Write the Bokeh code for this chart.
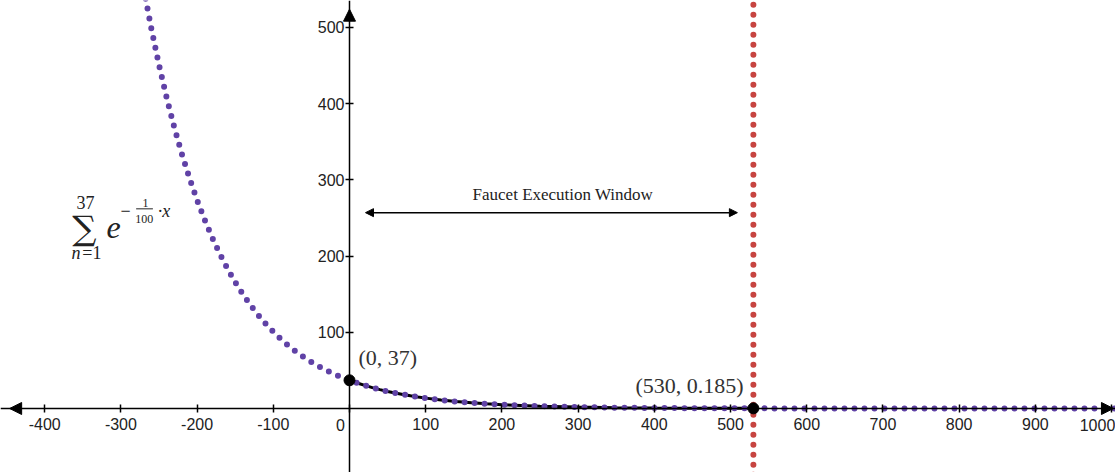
from bokeh.plotting import figure
from bokeh.models import Range1d, Arrow, NormalHead, FixedTicker
from bokeh.embed import file_html
from bokeh.resources import INLINE

# ---- data ----
curve_x = [-270, -260, -250, -240, -230, -220, -210, -200, -190, -180, -170, -160,
           -150, -140, -130, -120, -110, -100, -90, -80, -70, -60, -50, -40, -30,
           -20, -10, 0, 10, 20, 30, 40, 50, 60, 70, 80, 90, 100, 120, 140, 160, 180,
           200, 250, 300, 350, 400, 450, 500, 530, 600, 700, 800, 900, 1010]
curve_y = [550.6, 498.2, 450.8, 407.9, 369.0, 333.9, 302.2, 273.4, 247.4, 223.8, 202.5,
           183.3, 165.8, 150.0, 135.8, 122.8, 111.2, 100.6, 91.0, 82.3, 74.5, 67.4, 61.0,
           55.2, 49.9, 45.2, 40.9, 37.0, 33.5, 30.3, 27.4, 24.8, 22.4, 20.3, 18.4, 16.6,
           15.0, 13.6, 11.1, 9.1, 7.5, 6.1, 5.0, 3.0, 1.8, 1.1, 0.68, 0.41, 0.25, 0.185,
           0.09, 0.03, 0.01, 0.005, 0.002]
window_start = 0
window_end = 530
points_x = [0, 530]
points_y = [37, 0.185]
point_labels = ["(0, 37)", "(530, 0.185)"]
x_ticks = [-400, -300, -200, -100, 0, 100, 200, 300, 400, 500, 600, 700, 800, 900, 1000]
x_tick_labels = ["-400", "-300", "-200", "-100", "", "100", "200", "300", "400", "500",
                 "600", "700", "800", "900", ""]
y_ticks = [100, 200, 300, 400, 500]
annotation_text = "Faucet Execution Window"

PURPLE = "#6042a6"
RED = "#c74440"

p = figure(width=1115, height=472, output_backend="svg", toolbar_location=None,
           x_range=Range1d(-458.0, 1005.2), y_range=Range1d(-84.0, 535.4),
           min_border=0, x_axis_location="below", y_axis_location="left")
p.outline_line_color = None
p.xgrid.visible = False
p.ygrid.visible = False
p.background_fill_color = "white"

# axes through origin
for ax in (p.xaxis[0], p.yaxis[0]):
    ax.fixed_location = 0
    ax.axis_line_color = "black"
    ax.axis_line_width = 1.5
    ax.major_tick_line_color = "black"
    ax.major_tick_line_width = 1.5
    ax.major_tick_in = 4
    ax.major_tick_out = 4
    ax.minor_tick_line_color = None
    ax.major_label_text_font = "Liberation Sans"
    ax.major_label_text_font_size = "16px"
    ax.major_label_text_color = "#222222"
p.xaxis.ticker = FixedTicker(ticks=x_ticks)
p.yaxis.ticker = FixedTicker(ticks=y_ticks)
p.xaxis.major_label_overrides = {t: s for t, s in zip(x_ticks, x_tick_labels)}
p.xaxis.major_label_standoff = 6
p.yaxis.major_label_standoff = 1

# axis arrowheads
p.add_layout(Arrow(x_start=-400, y_start=0, x_end=-446, y_end=0, line_alpha=0,
                   end=NormalHead(size=12, fill_color="black", line_color="black")))
p.add_layout(Arrow(x_start=950, y_start=0, x_end=1002.5, y_end=0, line_alpha=0,
                   end=NormalHead(size=12, fill_color="black", line_color="black")))
p.add_layout(Arrow(x_start=0, y_start=480, x_end=0, y_end=524, line_alpha=0,
                   end=NormalHead(size=12, fill_color="black", line_color="black")))

p.text(x=[-12], y=[-22], text=["0"], text_font={"value": "Liberation Sans"},
       text_font_size="16px", text_color="#222222", text_align="center", text_baseline="middle")
p.text(x=[981.6], y=[-22], text=["1000"], text_font={"value": "Liberation Sans"},
       text_font_size="16px", text_color="#222222", text_align="center", text_baseline="middle")

# red dotted vertical line
p.line(x=[window_end, window_end], y=[-100, 600], line_color=RED, line_width=6,
       line_dash="0 10", line_cap="round")

# black solid curve within window
bx = [x for x in curve_x if window_start <= x <= window_end]
by = [y for x, y in zip(curve_x, curve_y) if window_start <= x <= window_end]
p.line(x=bx, y=by, line_color="black", line_width=3)

# purple dotted curve
p.line(x=curve_x, y=curve_y, line_color=PURPLE, line_width=6, line_dash="0 10",
       line_cap="round")

# points
p.scatter(x=points_x, y=points_y, size=11, fill_color="black", line_color="black")

p.text(x=[11.8], y=[66.9], text=[point_labels[0]], text_font={"value": "Liberation Serif"},
       text_font_size="22px", text_color="#333333", text_align="left", text_baseline="middle")
p.text(x=[375.3], y=[30.2], text=[point_labels[1]], text_font={"value": "Liberation Serif"},
       text_font_size="22px", text_color="#333333", text_align="left", text_baseline="middle")

# execution window annotation
p.add_layout(Arrow(x_start=21, y_start=257, x_end=509, y_end=257, line_color="black",
                   line_width=1.5,
                   start=NormalHead(size=8, fill_color="black", line_color="black"),
                   end=NormalHead(size=8, fill_color="black", line_color="black")))
p.text(x=[280], y=[281], text=[annotation_text], text_font={"value": "Liberation Serif"},
       text_font_size="17px", text_color="#222222", text_align="center", text_baseline="middle")

# summation formula
def t(x, y, s, size, style="normal", font="Liberation Serif"):
    p.text(x=[x], y=[y], text=[s], text_font={"value": font}, text_font_size=size,
           text_font_style=style, text_color="#222222", text_align="center",
           text_baseline="middle")

t(-346.5, 270.3, "37", "18px")
t(-347.8, 236.2, "\u2211", "34px", font="DejaVu Serif")
t(-359.0, 204.7, "n", "18px", "italic")
t(-338.0, 204.7, "=1", "18px")
t(-309.7, 237.5, "e", "32px", "italic")
t(-294.0, 259.8, "\u2212", "18px")
t(-267.7, 270.0, "1", "12px")
t(-269.5, 249.0, "100", "12px")
t(-243.4, 259.0, "\u00b7x", "18px", "italic")
p.segment(x0=[-280.0], y0=[262.0], x1=[-258.0], y1=[262.0], line_color="#222222", line_width=1)

open("out.html", "w").write(file_html(p, INLINE))
